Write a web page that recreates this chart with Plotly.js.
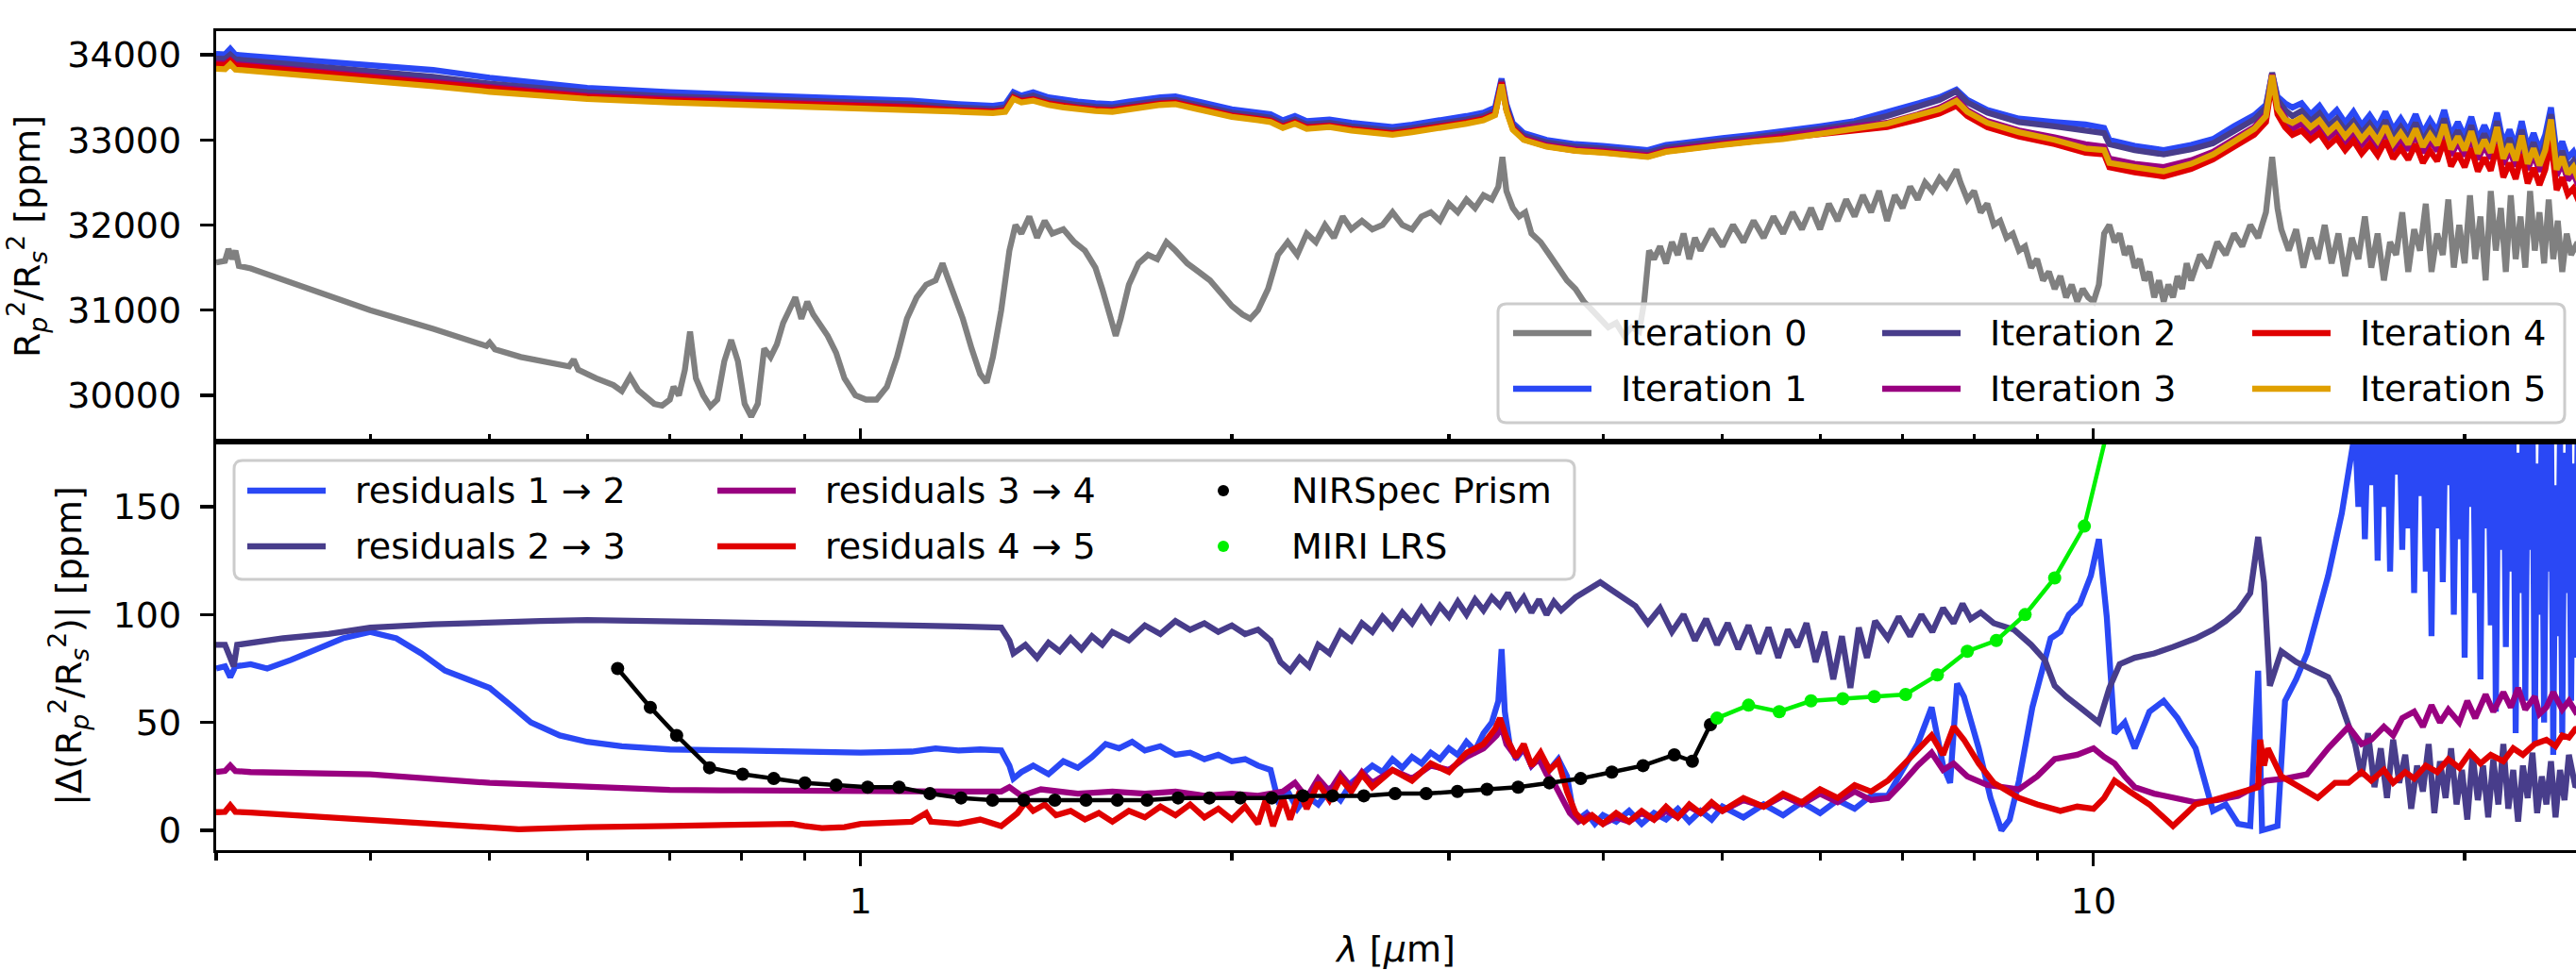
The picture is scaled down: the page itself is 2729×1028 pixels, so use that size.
<!DOCTYPE html>
<html><head><meta charset="utf-8">
<script src="https://cdn.plot.ly/plotly-3.0.1.min.js"></script>
<style>html,body{margin:0;padding:0;background:#fff;}#chart{width:2729px;height:1028px;}</style>
</head><body><div id="chart"></div>
<script>
// ---------------- DATA ----------------
// Top panel: iterations 1-5 share one wavelength grid (micron)
const wlIter = [
0.300,0.305,0.308,0.311,0.320,0.350,0.400,0.450,0.500,0.600,
0.700,0.800,0.900,1.000,1.100,1.200,1.280,1.310,1.330,1.350,
1.380,1.420,1.460,1.500,1.550,1.600,1.650,1.700,1.750,1.800,
1.850,1.900,1.950,2.000,2.100,2.150,2.200,2.250,2.300,2.400,
2.500,2.600,2.700,2.800,2.900,3.000,3.100,3.200,3.270,3.310,
3.340,3.380,3.450,3.600,3.800,4.000,4.200,4.350,4.500,4.700,
5.000,5.300,5.600,6.000,6.400,6.800,7.200,7.500,7.740,7.900,
8.200,8.700,9.300,9.850,10.200,10.300,10.800,11.400,12.000,12.500,
13.000,13.500,13.800,13.960,14.100,14.300,
14.50,14.75,15.00,15.25,15.50,15.75,16.00,16.25,16.50,16.75,
17.00,17.25,17.50,17.75,18.00,18.25,18.50,18.75,19.00,19.25,
19.50,19.75,20.00,20.25,20.50,20.75,21.00,21.25,21.50,21.75,
22.00,22.25,22.50,22.75,23.00,23.25,23.50,23.75,24.00,24.25,
24.50,24.75,25.00];
const iter1 = [
34010,34005,34070,34000,33985,33940,33880,33820,33730,33610,
33560,33530,33510,33490,33460,33420,33400,33420,33560,33520,
33560,33500,33470,33450,33430,33420,33450,33480,33500,33510,
33470,33430,33390,33360,33320,33300,33230,33280,33220,33240,
33200,33180,33150,33180,33210,33250,33280,33320,33380,33720,
33420,33200,33080,33000,32950,32930,32900,32880,32940,32980,
33020,33060,33100,33160,33220,33330,33430,33500,33590,33470,
33350,33250,33210,33180,33140,33000,32930,32880,32940,33010,
33160,33290,33410,33770,33510,33430,
33380,33430,33300,33400,33250,33350,33200,33330,33170,33290,
33150,33330,33120,33250,33110,33300,33080,33230,33100,33350,
33050,33210,33040,33270,33000,33170,33010,33320,32950,33120,
32930,33220,32900,33080,32880,33060,33380,32840,32980,32790,
32860,32700,32740];
const iter2 = [
33955,33950,34000,33945,33930,33880,33800,33740,33660,33560,
33510,33480,33460,33440,33420,33380,33360,33380,33530,33490,
33520,33460,33430,33410,33390,33380,33410,33440,33460,33470,
33430,33390,33350,33320,33280,33260,33190,33240,33180,33200,
33160,33140,33110,33140,33170,33210,33240,33280,33340,33700,
33390,33170,33050,32970,32920,32900,32870,32850,32910,32950,
32990,33030,33070,33130,33190,33280,33390,33470,33570,33440,
33320,33210,33160,33120,33080,32950,32880,32830,32890,32960,
33110,33240,33380,33790,33470,33350,
33280,33340,33220,33310,33160,33250,33110,33220,33080,33190,
33060,33230,33030,33150,33020,33200,32990,33130,33010,33250,
32960,33110,32950,33170,32910,33070,32920,33220,32850,33020,
32830,33120,32790,32970,32770,32950,33300,32720,32870,32670,
32750,32590,32630];
const iter3 = [
33900,33895,33940,33890,33875,33825,33745,33680,33610,33520,
33480,33450,33430,33410,33390,33350,33335,33350,33500,33460,
33480,33430,33400,33380,33360,33350,33380,33410,33430,33440,
33400,33360,33320,33290,33250,33230,33160,33210,33150,33170,
33130,33110,33080,33110,33140,33180,33210,33250,33310,33680,
33360,33140,33020,32940,32890,32870,32840,32820,32880,32920,
32960,33000,33040,33100,33160,33200,33300,33380,33480,33350,
33220,33110,33030,32950,32920,32780,32720,32680,32760,32860,
33010,33150,33300,33770,33400,33250,
33130,33190,33080,33160,33020,33110,32970,33080,32940,33050,
32920,33090,32890,33010,32880,33060,32850,32990,32870,33110,
32820,32970,32810,33030,32770,32930,32780,33080,32710,32880,
32690,32980,32650,32830,32630,32810,33170,32580,32730,32530,
32610,32450,32490];
const iter4 = [
33885,33880,33930,33875,33860,33810,33730,33665,33595,33505,
33465,33440,33420,33400,33380,33345,33330,33345,33495,33455,
33475,33425,33395,33375,33355,33345,33375,33405,33425,33435,
33395,33355,33315,33285,33245,33225,33155,33205,33145,33165,
33125,33105,33075,33105,33135,33175,33205,33245,33305,33670,
33355,33135,33005,32925,32875,32855,32825,32805,32865,32905,
32945,32985,33020,33070,33110,33150,33240,33310,33400,33280,
33150,33040,32950,32850,32830,32680,32620,32570,32660,32770,
32920,33060,33210,33700,33300,33150,
33060,33110,33000,33080,32930,33020,32880,32990,32840,32950,
32820,32990,32780,32900,32770,32950,32730,32870,32750,32990,
32690,32840,32680,32900,32630,32790,32640,32940,32560,32730,
32540,32830,32490,32670,32470,32650,32990,32410,32560,32360,
32430,32280,32310];
const iter5 = [
33835,33830,33890,33825,33810,33765,33690,33630,33565,33480,
33440,33415,33400,33380,33360,33330,33315,33330,33480,33440,
33460,33410,33380,33360,33340,33330,33360,33390,33410,33420,
33380,33340,33300,33270,33230,33210,33140,33190,33130,33150,
33110,33090,33060,33090,33120,33160,33190,33230,33290,33650,
33340,33120,33000,32920,32870,32850,32820,32800,32860,32900,
32940,32980,33010,33070,33130,33190,33290,33360,33460,33330,
33200,33090,33000,32900,32880,32730,32680,32630,32720,32830,
32980,33130,33280,33760,33370,33240,
33200,33260,33150,33230,33090,33180,33040,33150,33010,33120,
32990,33160,32960,33080,32950,33130,32920,33060,32940,33180,
32890,33040,32880,33100,32840,33000,32850,33150,32780,32950,
32760,33050,32720,32900,32700,32880,33240,32650,32800,32600,
32680,32520,32560];

// Iteration 0 (own grid)
const wlIter0 = [
0.300,0.305,0.307,0.309,0.311,0.313,0.320,0.350,0.400,0.450,
0.497,0.500,0.505,0.530,0.560,0.580,0.585,0.590,0.610,0.630,
0.640,0.650,0.660,0.680,0.690,0.700,0.705,0.712,0.720,0.727,
0.735,0.745,0.755,0.765,0.775,0.785,0.795,0.805,0.815,0.825,
0.835,0.845,0.855,0.865,0.875,0.885,0.895,0.905,0.915,0.925,
0.940,0.955,0.970,0.990,1.010,1.030,1.050,1.070,1.090,1.110,
1.130,1.150,1.165,1.175,1.190,1.210,1.230,1.250,1.265,1.280,
1.300,1.320,1.335,1.350,1.370,1.390,1.410,1.430,1.460,1.490,
1.520,1.550,1.570,1.590,1.610,1.625,1.650,1.680,1.710,1.740,
1.770,1.800,1.840,1.880,1.920,1.960,2.000,2.040,2.070,2.100,
2.140,2.180,2.220,2.260,2.300,2.340,2.380,2.420,2.460,2.500,
2.550,2.600,2.650,2.700,2.750,2.800,2.850,2.900,2.950,3.000,
3.050,3.100,3.150,3.200,3.250,3.290,3.315,3.340,3.380,3.420,
3.460,3.500,3.560,3.620,3.680,3.740,3.800,3.860,3.920,3.980,
4.040,4.100,4.160,4.220,4.280,4.320,4.360,4.400,4.450,4.500,
4.550,4.600,4.650,4.700,4.750,4.800,4.900,5.000,5.100,5.200,
5.300,5.400,5.500,5.600,5.700,5.800,5.900,6.000,6.100,6.200,
6.300,6.400,6.500,6.600,6.700,6.800,6.900,7.000,7.100,7.200,
7.300,7.400,7.500,7.600,7.740,7.800,7.900,8.000,8.100,8.200,
8.300,8.400,8.500,8.600,8.700,8.800,8.900,9.000,9.100,9.200,
9.300,9.400,9.500,9.600,9.700,9.800,9.900,10.000,10.100,10.200,
10.300,10.400,10.500,10.600,10.700,10.800,10.900,11.000,11.100,11.200,
11.300,11.400,11.500,11.600,11.700,11.800,11.900,12.000,12.200,12.400,
12.600,12.800,13.000,13.200,13.400,13.600,13.800,13.960,14.100,14.200,
14.400,14.600,14.800,15.000,15.200,15.400,15.600,15.800,16.000,16.200,
16.400,16.600,16.800,17.000,17.200,17.400,17.600,17.800,18.000,18.200,
18.400,18.600,18.800,19.000,19.200,19.400,19.600,19.800,20.000,20.200,
20.400,20.600,20.800,21.000,21.200,21.400,21.600,21.800,22.000,22.200,
22.400,22.600,22.800,23.000,23.200,23.400,23.600,23.800,24.000,24.200,
24.400,24.600,25.000];
const iter0 = [
31560,31580,31720,31600,31700,31520,31490,31300,31000,30780,
30580,30620,30540,30450,30380,30340,30420,30300,30200,30120,
30050,30220,30060,29900,29880,29950,30100,30000,30300,30750,
30200,30000,29870,29950,30400,30650,30400,29900,29750,29900,
30550,30450,30600,30850,31000,31150,30900,31100,30950,30850,
30700,30500,30200,30000,29950,29950,30100,30450,30900,31150,
31300,31350,31550,31400,31200,30900,30550,30250,30150,30450,
31000,31700,32000,31900,32100,31850,32050,31900,31950,31800,
31700,31500,31250,30950,30700,30900,31300,31550,31650,31600,
31800,31700,31550,31450,31350,31200,31050,30950,30900,31000,
31250,31650,31800,31650,31900,31800,32000,31850,32100,31950,
32050,31950,32000,32150,32000,31950,32100,32150,32050,32250,
32150,32300,32200,32350,32300,32450,32800,32400,32200,32100,
32150,31900,31800,31650,31500,31350,31250,31100,31000,30900,
30800,30850,30700,30800,30750,31100,31700,31600,31750,31550,
31800,31650,31900,31600,31850,31700,31950,31750,32000,31800,
32050,31850,32100,31900,32150,31950,32200,31950,32250,32050,
32300,32100,32350,32150,32400,32050,32350,32200,32450,32300,
32500,32400,32550,32450,32650,32500,32300,32400,32150,32250,
32000,32050,31850,31900,31700,31750,31500,31600,31350,31450,
31250,31400,31150,31300,31100,31250,31150,31100,31300,31900,
32000,31800,31900,31650,31750,31500,31600,31350,31450,31150,
31350,31100,31300,31150,31400,31250,31550,31350,31650,31500,
31800,31650,31900,31750,32000,31850,32150,32800,32200,31950,
31700,31950,31500,31850,31600,32000,31550,31900,31400,31850,
31600,32100,31500,31900,31350,31800,31650,32150,31450,31950,
31700,32250,31450,31900,31650,32300,31500,32000,31550,32350,
31600,32100,31350,32400,31700,32200,31450,32350,31600,32100,
31500,32400,31700,32150,31550,32300,31600,32050,31450,31900,
31650,31750,31600];

// Bottom panel: residuals
const wlRes12 = [
0.300,0.305,0.308,0.311,0.320,0.330,0.345,0.355,0.365,0.380,
0.400,0.420,0.440,0.460,0.480,0.500,0.520,0.540,0.570,0.600,
0.640,0.700,0.800,0.900,1.000,1.100,1.150,1.200,1.250,1.300,
1.320,1.330,1.350,1.380,1.420,1.460,1.500,1.540,1.580,1.620,
1.660,1.700,1.750,1.800,1.850,1.900,1.950,2.000,2.050,2.100,
2.150,2.180,2.220,2.260,2.300,2.350,2.400,2.450,2.500,2.550,
2.600,2.650,2.700,2.750,2.800,2.850,2.900,2.950,3.000,3.050,
3.100,3.150,3.200,3.250,3.290,3.310,3.330,3.360,3.400,3.450,
3.500,3.560,3.620,3.680,3.740,3.780,3.820,3.880,3.940,4.000,
4.100,4.200,4.300,4.400,4.500,4.600,4.700,4.800,4.900,5.000,
5.200,5.400,5.600,5.800,6.000,6.200,6.400,6.600,6.810,7.000,
7.200,7.390,7.550,7.650,7.750,7.850,8.070,8.250,8.420,8.550,
8.700,8.920,9.230,9.400,9.550,9.750,9.950,10.100,10.250,10.400,
10.600,10.800,11.100,11.400,11.700,12.100,12.500,12.800,13.100,13.400,
13.600,13.700,13.900,14.100,14.300,14.600,14.900,15.200,15.500,15.900,
16.100,
16.3,16.4,16.5,16.6,16.7,16.8,16.9,17.0,17.1,17.2,
17.3,17.4,17.5,17.6,17.7,17.8,17.9,18.0,18.1,18.2,
18.3,18.4,18.5,18.6,18.7,18.8,18.9,19.0,19.1,19.2,
19.3,19.4,19.5,19.6,19.7,19.8,19.9,20.0,20.1,20.2,
20.3,20.4,20.5,20.6,20.7,20.8,20.9,21.0,21.1,21.2,
21.3,21.4,21.5,21.6,21.7,21.8,21.9,22.0,22.1,22.2,
22.3,22.4,22.5,22.6,22.7,22.8,22.9,23.0,23.1,23.2,
23.3,23.4,23.5,23.6,23.7,23.8,23.9,24.0,24.1,24.2,
24.3,24.4,24.5,24.6,24.7,24.8,24.9,25.0];
const res12 = [
75,76,71,76,77,75,79,82,85,89,
92,89,82,74,70,66,58,50,44,41,
39,37.5,37,36.5,36,36.5,38,37,37.5,37,
30,24,27,30,26,32,29,34,40,38,
41,37,39,35,36,33,35,32,33,30,
28,14,18,10,16,12,19,14,22,26,
30,27,33,29,34,31,36,33,38,35,
41,37,45,50,60,84,55,40,33,38,
30,35,28,33,25,10,5,8,3,7,
4,9,3,8,5,10,4,9,5,11,
6,12,7,13,8,14,10,16,16,28,
40,57,30,22,68,62,38,15,0,5,
23,57,89,92,100,105,118,135,99,45,
50,38,55,60,52,38,9,12,3,2,
74,0,1,2,60,70,82,100,118,147,
169,
185,150,195,135,190,160,200,125,190,150,
200,120,185,165,195,130,200,140,190,110,
195,155,200,120,185,90,195,140,200,115,
190,160,200,100,185,135,195,80,190,150,
200,110,185,70,195,140,190,95,200,55,
180,130,195,85,190,120,200,45,175,110,
195,60,185,130,200,40,170,100,190,50,
180,120,195,35,160,90,185,45,175,110,
190,60,170,80,185,50,160,120];

const wlRes23 = [
0.300,0.305,0.308,0.310,0.312,0.320,0.340,0.370,0.400,0.450,
0.500,0.550,0.600,0.700,0.800,0.900,1.000,1.100,1.200,1.300,
1.320,1.330,1.360,1.390,1.420,1.450,1.480,1.510,1.540,1.570,
1.600,1.650,1.700,1.750,1.800,1.850,1.900,1.950,2.000,2.050,
2.100,2.150,2.190,2.230,2.270,2.310,2.350,2.400,2.450,2.500,
2.550,2.600,2.650,2.700,2.750,2.800,2.850,2.900,2.950,3.000,
3.050,3.100,3.150,3.200,3.250,3.300,3.350,3.400,3.450,3.500,
3.550,3.600,3.650,3.700,3.800,3.900,3.980,4.050,4.150,4.250,
4.350,4.450,4.550,4.650,4.750,4.850,4.950,5.050,5.150,5.250,
5.350,5.450,5.550,5.650,5.750,5.850,5.950,6.050,6.150,6.250,
6.350,6.450,6.550,6.650,6.810,6.950,7.100,7.250,7.400,7.550,
7.700,7.830,7.950,8.100,8.300,8.620,8.900,9.130,9.300,9.500,
9.800,10.100,10.300,10.500,10.800,11.200,11.600,12.100,12.500,12.800,
13.100,13.400,13.600,13.750,13.900,14.200,14.600,15.000,15.500,15.800,
16.100,16.300,16.500,16.700,16.900,17.100,17.300,17.500,17.700,17.900,
18.100,18.300,18.500,18.700,18.900,19.100,19.300,19.500,19.700,19.900,
20.100,20.300,20.500,20.700,20.900,21.100,21.300,21.500,21.700,21.900,
22.100,22.300,22.500,22.700,22.900,23.100,23.300,23.500,23.700,23.900,
24.100,24.300,24.600,25.000];
const res23 = [
86,86,80,76,86,87,89,91,94,95.5,
96.5,97,97.5,97,96.5,96,95.5,95,94.5,94,
88,82,86,80,87,83,89,84,90,86,
92,88,95,91,97,93,96,92,95,91,
93,88,78,74,80,76,86,82,92,88,
96,92,99,94,101,96,103,97,104,99,
106,100,107,102,108,104,110,103,108,101,
107,100,106,102,108,112,115,112,108,104,
96,103,92,100,88,98,86,96,84,95,
82,94,80,93,85,96,78,92,70,90,
66,94,80,97,89,99,90,100,92,103,
96,105,98,101,96,93,86,79,67,62,
56,50,66,77,80,82,85,89,93,97,
102,110,136,115,67,83,78,75,71,62,
48,40,25,45,20,38,15,42,22,35,
10,30,18,40,8,32,15,38,12,28,
5,35,14,30,6,33,12,40,10,28,
4,30,15,36,8,25,12,32,6,28,
14,35,20,25];

const wlRes34 = [
0.300,0.305,0.308,0.311,0.320,0.400,0.500,0.600,0.700,0.800,
0.900,1.000,1.200,1.300,1.320,1.350,1.400,1.500,1.600,1.700,
1.800,1.900,2.000,2.100,2.200,2.250,2.300,2.350,2.400,2.450,
2.500,2.550,2.600,2.700,2.800,2.900,3.000,3.100,3.200,3.280,
3.310,3.340,3.400,3.450,3.500,3.550,3.600,3.650,3.700,3.760,
3.820,3.900,4.000,4.100,4.200,4.300,4.400,4.500,4.600,4.700,
4.800,4.900,5.000,5.200,5.400,5.600,5.800,6.000,6.200,6.400,
6.600,6.810,7.000,7.200,7.390,7.550,7.700,7.900,8.200,8.700,
9.000,9.300,9.700,10.000,10.200,10.400,10.600,10.800,11.200,11.600,
12.100,12.600,13.100,13.600,13.800,14.300,14.900,15.500,16.100,16.500,
16.800,17.200,17.500,17.800,18.200,18.500,18.800,19.100,19.400,19.800,
20.100,20.400,20.800,21.100,21.500,21.800,22.100,22.400,22.800,23.000,
23.300,23.600,24.000,24.300,24.600,25.000];
const res34 = [
27,27.5,30,27.5,27,26,22,20,18.7,18.5,
18.2,18,18,18,20,16,19,17,18,17,
18,16,17,16,18,22,15,24,18,26,
20,27,22,28,24,30,28,34,38,44,
48,40,34,38,30,33,26,22,16,8,
4,7,3,6,4,8,5,9,6,11,
8,12,9,14,11,16,12,17,13,18,
14,15,22,30,36,28,31,25,21,19,
25,33,35,38,34,31,25,20,17,15,
13,14,16,21,23,24,26,38,48,40,
42,48,44,52,55,48,58,50,56,50,
60,52,63,55,64,57,66,56,62,54,
57,64,56,60,55,58];

const wlRes45 = [
0.300,0.305,0.308,0.311,0.320,0.400,0.450,0.528,0.600,0.700,
0.800,0.880,0.900,0.930,0.970,1.000,1.100,1.130,1.140,1.200,
1.250,1.300,1.340,1.360,1.380,1.410,1.440,1.480,1.520,1.560,
1.600,1.650,1.700,1.750,1.800,1.850,1.900,1.950,2.000,2.050,
2.100,2.130,2.160,2.200,2.230,2.270,2.300,2.350,2.400,2.450,
2.500,2.550,2.600,2.700,2.800,2.900,3.000,3.100,3.200,3.270,
3.300,3.340,3.400,3.450,3.500,3.560,3.620,3.680,3.740,3.800,
3.860,3.920,4.000,4.100,4.200,4.300,4.400,4.500,4.600,4.700,
4.800,4.900,5.000,5.200,5.400,5.600,5.800,6.000,6.200,6.400,
6.600,6.810,7.000,7.200,7.390,7.550,7.700,7.850,8.070,8.300,
8.700,9.000,9.400,9.700,10.000,10.200,10.400,10.700,11.100,11.400,
11.600,11.900,12.100,12.500,13.100,13.600,13.650,13.750,13.850,14.200,
14.700,15.200,15.700,16.100,16.500,16.800,17.200,17.500,17.900,18.200,
18.600,19.000,19.400,19.800,20.200,20.600,21.000,21.500,21.900,22.300,
22.800,23.300,23.700,24.000,24.300,24.600,25.000];
const res45 = [
8.4,8.6,11.6,8.6,8.2,4.4,3,0.5,1.5,2,
2.5,3,2,1,1.5,3,4,8,4,3,
5,2,8,13,9,12,7,9,5,8,
4,9,6,11,7,12,6,10,5,11,
3,14,2,15,5,18,10,22,14,24,
18,26,20,28,23,31,27,36,40,47,
52,43,34,40,30,36,28,32,18,8,
4,7,3,8,4,9,5,11,6,12,
8,13,9,15,11,17,13,19,15,21,
18,23,30,37,44,35,48,42,31,22,
15,12,9,11,10,15,23,18,12,6,
2,8,12,14,17,20,42,30,38,25,
20,15,22,22,27,23,28,22,27,24,
30,27,33,29,36,31,35,32,38,35,
40,42,39,44,43,47,48];

// Instrument precision curves
const wlNirspec = [0.635,0.675,0.709,0.754,0.802,0.850,0.901,0.955,1.013,1.074,
1.138,1.206,1.279,1.356,1.437,1.523,1.615,1.707,1.809,1.918,
2.032,2.155,2.284,2.414,2.559,2.713,2.875,3.048,3.221,3.414,
3.619,3.837,4.067,4.311,4.570,4.727,4.889];
const nirspec = [75,57,44,29,26,24,22,21,20,20,
17,15,14,14,14,14,14,14,15,15,
15,15,16,16,16,17,17,18,19,20,
22,24,27,30,35,32,49];
const wlMiri = [4.95,5.25,5.56,5.90,6.26,6.64,7.04,7.47,7.90,8.34,8.80,9.30,9.83,10.40];
const miri = [52,58,55,60,61,62,63,72,83,88,100,117,141,199];

// Labels
const iterNames = ['Iteration 0','Iteration 1','Iteration 2','Iteration 3','Iteration 4','Iteration 5'];
const resNames = ['residuals 1 \u2192 2','residuals 2 \u2192 3','residuals 3 \u2192 4','residuals 4 \u2192 5','NIRSpec Prism','MIRI LRS'];
const yTopTicks = [30000,31000,32000,33000,34000];
const yBotTicks = [0,50,100,150];
const xMajorTicks = [1,10];
const xMinorTicks = [0.3,0.4,0.5,0.6,0.7,0.8,0.9,2,3,4,5,6,7,8,9,20];

// ---------------- STYLE ----------------
const C = {gray:'#808080', blue:'#2a48f5', slate:'#483d8b', purple:'#990080', red:'#e00000', orange:'#e0a000', black:'#000000', green:'#00f000'};
const iterColors = [C.gray,C.blue,C.slate,C.purple,C.red,C.orange];
const resColors = [C.blue,C.slate,C.purple,C.red];
const LW = 6.3;
const FONT = 'DejaVu Sans';
const FS = 38;

const traces = [];
const iterX = [wlIter0, wlIter, wlIter, wlIter, wlIter, wlIter];
const iterY = [iter0, iter1, iter2, iter3, iter4, iter5];
for (let i=0;i<6;i++) {
  traces.push({x:iterX[i], y:iterY[i], xaxis:'x2', yaxis:'y2', type:'scatter', mode:'lines',
    name:iterNames[i], line:{color:iterColors[i], width:LW}, showlegend:false, hoverinfo:'skip'});
}
const resX = [wlRes12, wlRes23, wlRes34, wlRes45];
const resY = [res12, res23, res34, res45];
for (let i=0;i<4;i++) {
  traces.push({x:resX[i], y:resY[i], xaxis:'x', yaxis:'y', type:'scatter', mode:'lines',
    name:resNames[i], line:{color:resColors[i], width:LW}, showlegend:false, hoverinfo:'skip'});
}
traces.push({x:wlNirspec, y:nirspec, xaxis:'x', yaxis:'y', type:'scatter', mode:'lines+markers',
  name:resNames[4], line:{color:C.black, width:4.5}, marker:{color:C.black, size:14}, showlegend:false, hoverinfo:'skip'});
traces.push({x:wlMiri, y:miri, xaxis:'x', yaxis:'y', type:'scatter', mode:'lines+markers',
  name:resNames[5], line:{color:C.green, width:4.5}, marker:{color:C.green, size:14}, showlegend:false, hoverinfo:'skip'});

// ---------------- LAYOUT ----------------
const ML=229, MT=33, MB=127, W=2729, H=1028;
const PW=W-ML, PH=H-MT-MB, PY1=H-MB;
const fx = X => (X-ML)/PW;
const fy = Y => (PY1-Y)/PH;
const split = (PY1-468)/PH;

function rrect(x0,y0,x1,y1,r){
  const p=(X,Y)=>fx(X).toFixed(5)+','+fy(Y).toFixed(5);
  return 'M'+p(x0+r,y0)+' L'+p(x1-r,y0)+' Q'+p(x1,y0)+' '+p(x1,y0+r)+
    ' L'+p(x1,y1-r)+' Q'+p(x1,y1)+' '+p(x1-r,y1)+
    ' L'+p(x0+r,y1)+' Q'+p(x0,y1)+' '+p(x0,y1-r)+
    ' L'+p(x0,y0+r)+' Q'+p(x0,y0)+' '+p(x0+r,y0)+' Z';
}
const shapes=[], annotations=[];
function legendBox(x0,y0,x1,y1){
  shapes.push({type:'path', xref:'paper', yref:'paper', layer:'above', path:rrect(x0,y0,x1,y1,9),
    fillcolor:'rgba(255,255,255,0.8)', line:{color:'#cccccc', width:3}});
}
function legendLine(X,Y,color){
  shapes.push({type:'line', xref:'paper', yref:'paper', layer:'above', x0:fx(X), x1:fx(X+83), y0:fy(Y), y1:fy(Y),
    line:{color:color, width:LW}});
}
function legendDot(X,Y,color){
  shapes.push({type:'circle', xref:'paper', yref:'paper', layer:'above', xsizemode:'pixel', ysizemode:'pixel',
    xanchor:fx(X+42), yanchor:fy(Y), x0:-6, x1:6, y0:-6, y1:6, fillcolor:color, line:{width:0}});
}
function legendText(X,Y,t){
  annotations.push({xref:'paper', yref:'paper', x:fx(X), y:fy(Y), xanchor:'left', yanchor:'middle',
    text:t, showarrow:false, font:{family:FONT, size:FS, color:'#000'}});
}
// top legend (3 columns x 2 rows)
legendBox(1587,322,2717,448);
const topCols=[1603,1994,2386], rows=[353,412];
[[0,1],[2,3],[4,5]].forEach((pair,c)=>{
  pair.forEach((k,r)=>{ legendLine(topCols[c],rows[r],iterColors[k]); legendText(topCols[c]+112,rows[r],iterNames[k]); });
});
// bottom legend
legendBox(248,488,1668,614);
const botCols=[262,760,1254], brows=[520,579];
legendLine(botCols[0],brows[0],resColors[0]); legendText(botCols[0]+112,brows[0],resNames[0]);
legendLine(botCols[0],brows[1],resColors[1]); legendText(botCols[0]+112,brows[1],resNames[1]);
legendLine(botCols[1],brows[0],resColors[2]); legendText(botCols[1]+112,brows[0],resNames[2]);
legendLine(botCols[1],brows[1],resColors[3]); legendText(botCols[1]+112,brows[1],resNames[3]);
legendDot(botCols[2],brows[0],C.black); legendText(botCols[2]+112,brows[0],resNames[4]);
legendDot(botCols[2],brows[1],C.green); legendText(botCols[2]+112,brows[1],resNames[5]);

const axLine = {showline:true, linecolor:'#000', linewidth:3.2, showgrid:false, zeroline:false,
  tickcolor:'#000', tickwidth:3.2, ticklen:14, tickfont:{family:FONT, size:FS, color:'#000'}};
const xr = [Math.log10(0.3), Math.log10(0.3)+PW/1306];

const layout = {
  width:W, height:H, margin:{l:ML, r:0, t:MT, b:MB, pad:0},
  paper_bgcolor:'#fff', plot_bgcolor:'#fff', showlegend:false,
  font:{family:FONT, size:FS, color:'#000'},
  xaxis: Object.assign({}, axLine, {type:'log', range:xr, anchor:'y', mirror:true,
    tickmode:'array', tickvals:xMajorTicks, ticktext:xMajorTicks.map(String), ticks:'outside', ticklabelstandoff:4,
    minor:{tickmode:'array', tickvals:xMinorTicks, ticks:'outside', ticklen:8, tickwidth:3.2, tickcolor:'#000'},
    title:{text:'<i>\u03bb</i> [<i>\u00b5</i>m]', font:{family:FONT, size:FS, color:'#000'}, standoff:34}}),
  xaxis2: Object.assign({}, axLine, {type:'log', range:xr, anchor:'y2', matches:'x', mirror:true,
    showticklabels:false, tickmode:'array', tickvals:xMajorTicks, ticks:'inside',
    minor:{tickmode:'array', tickvals:xMinorTicks, ticks:'inside', ticklen:8, tickwidth:3.2, tickcolor:'#000'}}),
  yaxis: Object.assign({}, axLine, {domain:[0, split], range:[-9.2, 180.2], anchor:'x',
    tickmode:'array', tickvals:yBotTicks, ticktext:yBotTicks.map(String), ticks:'outside', ticklabelstandoff:12,
    title:{text:'|\u0394(R<sub><i>p</i></sub><sup>2</sup>/R<sub><i>s</i></sub><sup>2</sup>)| [ppm]', font:{family:FONT, size:FS, color:'#000'}, standoff:22}}),
  yaxis2: Object.assign({}, axLine, {domain:[split, 1], range:[29457, 34277], anchor:'x2',
    tickmode:'array', tickvals:yTopTicks, ticktext:yTopTicks.map(String), ticks:'outside', ticklabelstandoff:12,
    title:{text:'R<sub><i>p</i></sub><sup>2</sup>/R<sub><i>s</i></sub><sup>2</sup> [ppm]', font:{family:FONT, size:FS, color:'#000'}, standoff:18}}),
  shapes:shapes, annotations:annotations
};
Plotly.newPlot('chart', traces, layout, {displayModeBar:false, staticPlot:true});
</script></body></html>
